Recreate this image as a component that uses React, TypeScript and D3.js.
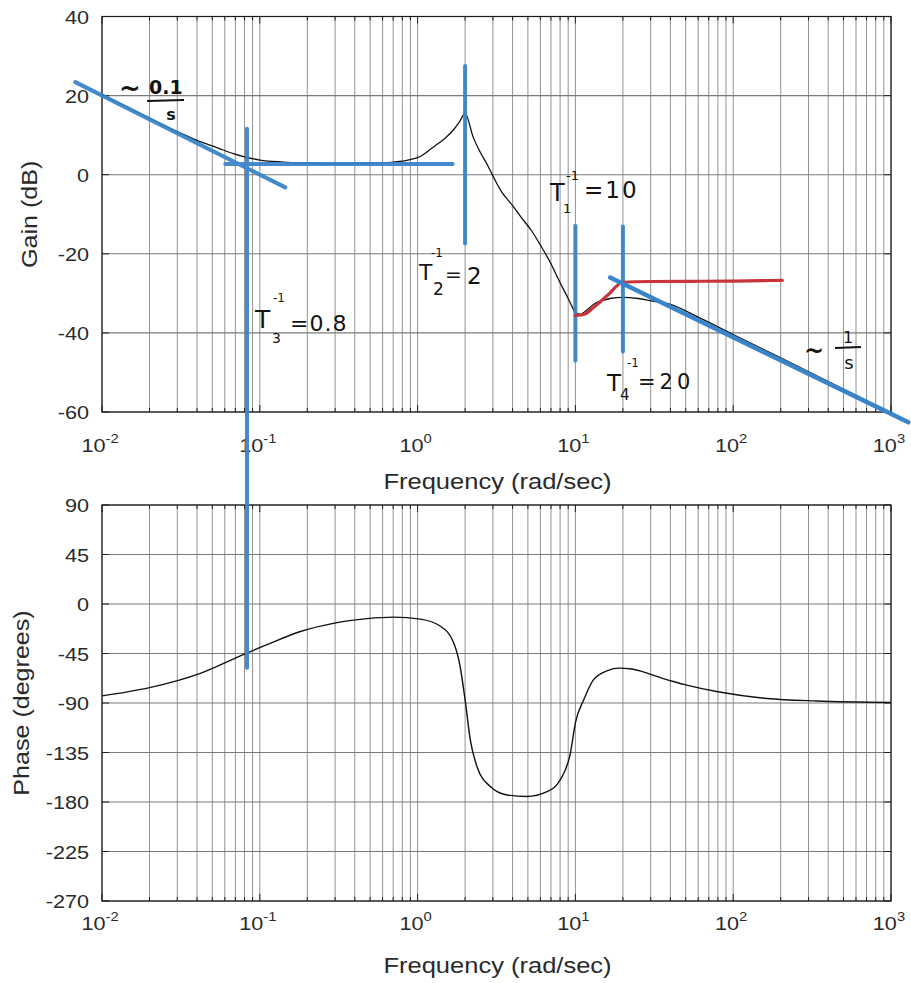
import React from "react";
import * as d3 from "d3";

const W = 911;
const H = 983;

// ---------- data ----------
const gainFreq = [0.01, 0.02, 0.03, 0.04, 0.054, 0.068, 0.08, 0.1, 0.14, 0.2, 0.3, 0.5, 0.7, 0.87, 1.04, 1.26, 1.5, 1.7, 1.85, 2.0, 2.25, 2.5, 2.75, 3.0, 3.4, 4.0, 4.5, 5.3, 6.0, 7.0, 8.0, 9.0, 9.6, 10.0, 10.7, 11.5, 13, 16.6, 20, 25, 30, 40, 60, 100, 200, 500, 1000];
const gainDb = [20.3, 14.3, 10.9, 8.7, 6.8, 5.3, 4.5, 3.7, 3.2, 2.9, 2.8, 2.9, 3.2, 3.7, 4.6, 7.0, 9.3, 11.5, 13.5, 15.5, 9.5, 5.6, 2.7, -0.3, -4.3, -7.8, -10.6, -14.3, -17.8, -22.5, -27.3, -31.3, -33.6, -34.9, -35.3, -34.6, -32.8, -31.3, -31.0, -31.3, -31.9, -32.8, -36.0, -40.4, -46.3, -54.2, -60.2];

const phaseFreq = [0.01, 0.02, 0.042, 0.08, 0.111, 0.181, 0.292, 0.478, 0.7, 1.04, 1.39, 1.69, 1.85, 2.0, 2.16, 2.38, 2.89, 3.68, 4.93, 6.61, 8.0, 9.29, 10.0, 11.3, 13.0, 16.0, 19.0, 22.0, 26.0, 32.0, 40.0, 50.0, 80.0, 164, 340, 1000];
const phaseDeg = [-83.5, -76, -63, -45.5, -37, -25, -17.6, -13.3, -11.9, -13.7, -20, -35, -55, -87, -124, -148, -166, -173.6, -175, -170.6, -160, -135.8, -108, -87, -69, -60.5, -58.3, -58.8, -61, -65.3, -69.8, -73.5, -79.8, -85.9, -88.2, -89.5];

// hand-drawn asymptotes (freq, dB)
const lowAsymFreq = [0.00678, 0.145];
const lowAsymDb = [23.4, -3.2];
const flatAsymFreq = [0.0604, 1.667];
const flatAsymDb = [2.7, 2.7];
const highAsymFreq = [16.6, 1288];
const highAsymDb = [-26, -62.6];
const redFreq = [10, 11.5, 13, 16, 20, 30, 100, 205];
const redDb = [-35.6, -35.2, -33.6, -30.5, -27.2, -27.0, -26.9, -26.7];

// hand-drawn vertical break-frequency marks
const markFreq = [0.083, 2, 10, 20];
const markTopDb = [11.6, 27.5, -12.9, -13.1];
const markBottomDb = [null, -17.4, -47, -44.7];
const markBottomPhase = [-58, null, null, null];

const gainTicks = [40, 20, 0, -20, -40, -60];
const phaseTicks = [90, 45, 0, -45, -90, -135, -180, -225, -270];
const decadeExps = [-2, -1, 0, 1, 2, 3];

// ---------- layout ----------
const X0 = 102;
const X1 = 891;
const x = d3.scaleLog().domain([0.01, 1000]).range([X0, X1]);
const yG = d3.scaleLinear().domain([-60, 40]).range([412, 16.5]);
const yP = d3.scaleLinear().domain([-270, 90]).range([901, 505]);

const minorFreqs: number[] = [];
for (let e = -2; e <= 2; e++) for (let k = 2; k <= 9; k++) minorFreqs.push(k * Math.pow(10, e));
const majorFreqs = decadeExps.map((e) => Math.pow(10, e));

const BLUE = "#3a84ca";
const RED = "#c9343a";
const INK = "#141414";
const TXT = "#2a2a2a";
const GRID = "#929292";

const zip = (a: number[], b: number[]) => a.map((v, i) => [v, b[i]] as [number, number]);

function SText({ x: px, y: py, size, sx = 1.16, anchor = "start", children, rotate = 0, fill = TXT, family = "Liberation Sans" }: any) {
  return (
    <g transform={`translate(${px},${py}) rotate(${rotate}) scale(${sx},1)`}>
      <text x={0} y={0} fontSize={size} textAnchor={anchor} fill={fill} fontFamily={family}>
        {children}
      </text>
    </g>
  );
}

function Panel({ y, ticks, label, labelX, tickBaseline, titleBaseline }: any) {
  const [yb, yt] = y.range();
  return (
    <g>
      {/* grid */}
      {minorFreqs.concat(majorFreqs).map((f, i) => (
        <line key={"v" + i} x1={x(f)} x2={x(f)} y1={yt} y2={yb} stroke={GRID} strokeWidth={1} />
      ))}
      {ticks.map((t: number, i: number) => (
        <line key={"h" + i} x1={X0} x2={X1} y1={y(t)} y2={y(t)} stroke="#7a7a7a" strokeWidth={1.1} />
      ))}
      {/* inner ticks */}
      {minorFreqs.map((f, i) => (
        <g key={"mt" + i} stroke="#222" strokeWidth={1}>
          <line x1={x(f)} x2={x(f)} y1={yb} y2={yb - 4} />
          <line x1={x(f)} x2={x(f)} y1={yt} y2={yt + 4} />
        </g>
      ))}
      {majorFreqs.map((f, i) => (
        <g key={"Mt" + i} stroke="#222" strokeWidth={1}>
          <line x1={x(f)} x2={x(f)} y1={yb} y2={yb - 7} />
          <line x1={x(f)} x2={x(f)} y1={yt} y2={yt + 7} />
        </g>
      ))}
      {ticks.map((t: number, i: number) => (
        <g key={"yt" + i} stroke="#222" strokeWidth={1}>
          <line x1={X0} x2={X0 + 7} y1={y(t)} y2={y(t)} />
          <line x1={X1} x2={X1 - 7} y1={y(t)} y2={y(t)} />
        </g>
      ))}
      <rect x={X0} y={yt} width={X1 - X0} height={yb - yt} fill="none" stroke="#1a1a1a" strokeWidth={1.2} />
      {/* y tick labels */}
      {ticks.map((t: number, i: number) => (
        <SText key={"yl" + i} x={89} y={y(t) + 7} size={19} sx={1.14} anchor="end">
          {String(t)}
        </SText>
      ))}
      {/* x tick labels */}
      {decadeExps.map((e, i) => (
        <SText key={"xl" + i} x={x(Math.pow(10, e)) - 2} y={tickBaseline} size={19} sx={1.14} anchor="middle">
          10<tspan fontSize={13} dy={-9}>{String(e)}</tspan>
        </SText>
      ))}
      <SText x={(X0 + X1) / 2 + 1} y={titleBaseline} size={22} sx={1.16} anchor="middle">
        Frequency (rad/sec)
      </SText>
      <SText x={labelX} y={(yt + yb) / 2} size={22} sx={1.14} anchor="middle" rotate={-90}>
        {label}
      </SText>
    </g>
  );
}

export default function App() {
  const lineG = d3
    .line<[number, number]>()
    .x((d) => x(d[0]))
    .y((d) => yG(d[1]))
    .curve(d3.curveMonotoneX);
  const lineP = d3
    .line<[number, number]>()
    .x((d) => x(d[0]))
    .y((d) => yP(d[1]))
    .curve(d3.curveMonotoneX);
  const lineStraight = d3
    .line<[number, number]>()
    .x((d) => x(d[0]))
    .y((d) => yG(d[1]));

  const hw = { fill: INK, fontFamily: "DejaVu Sans" } as any;

  return (
    <svg width={W} height={H} style={{ position: "absolute", left: 0, top: 0, background: "#fff" }}>
      <rect x={0} y={0} width={W} height={H} fill="#fff" />
      <Panel y={yG} ticks={gainTicks} label="Gain (dB)" labelX={37} tickBaseline={452} titleBaseline={489} />
      <Panel y={yP} ticks={phaseTicks} label="Phase (degrees)" labelX={29} tickBaseline={930} titleBaseline={973} />

      {/* measured curves */}
      <path d={lineG(zip(gainFreq, gainDb)) || ""} fill="none" stroke="#111" strokeWidth={1.3} />
      <path d={lineP(zip(phaseFreq, phaseDeg)) || ""} fill="none" stroke="#111" strokeWidth={1.4} />

      {/* hand-drawn asymptotes */}
      <g stroke={BLUE} strokeWidth={4} strokeLinecap="round" fill="none" opacity={0.95}>
        <path d={lineStraight(zip(lowAsymFreq, lowAsymDb)) || ""} />
        <path d={lineStraight(zip(flatAsymFreq, flatAsymDb)) || ""} />
        {markFreq.map((f, i) => (
          <line
            key={i}
            x1={x(f)}
            x2={x(f)}
            y1={yG(markTopDb[i])}
            y2={markBottomPhase[i] != null ? yP(markBottomPhase[i] as number) : yG(markBottomDb[i] as number)}
          />
        ))}
      </g>
      <path d={lineG(zip(redFreq, redDb)) || ""} fill="none" stroke={RED} strokeWidth={3.2} strokeLinecap="round" />
      <path d={lineStraight(zip(highAsymFreq, highAsymDb)) || ""} fill="none" stroke={BLUE} strokeWidth={4.5} strokeLinecap="round" />

      {/* handwritten annotations */}
      <g {...hw}>
        {/* ~ 0.1/s */}
        <text x={119} y={97} fontSize={26} fontWeight="bold">~</text>
        <text x={149} y={94} fontSize={19} fontWeight="bold">0.1</text>
        <line x1={147} x2={184} y1={101} y2={100} stroke={INK} strokeWidth={2.2} />
        <text x={171} y={120} fontSize={16} fontWeight="bold" textAnchor="middle">s</text>

        {/* T3 */}
        <text x={255} y={328} fontSize={25}>T</text>
        <text x={272} y={343} fontSize={14}>3</text>
        <text x={273} y={302} fontSize={12}>-1</text>
        <text x={290} y={331} fontSize={22} letterSpacing={1}>=0.8</text>

        {/* T2 */}
        <text x={419} y={280} fontSize={22}>T</text>
        <text x={433} y={295} fontSize={17}>2</text>
        <text x={431} y={257} fontSize={12}>-1</text>
        <text x={445} y={281} fontSize={20}>=</text>
        <text x={467} y={284} fontSize={23}>2</text>

        {/* T1 */}
        <text x={550} y={201} fontSize={24}>T</text>
        <text x={563} y={213} fontSize={13}>1</text>
        <text x={566} y={180} fontSize={13}>-1</text>
        <text x={584} y={198} fontSize={23} letterSpacing={2}>=10</text>

        {/* T4 */}
        <text x={607} y={391} fontSize={23}>T</text>
        <text x={620} y={400} fontSize={15}>4</text>
        <text x={627} y={367} fontSize={12}>-1</text>
        <text x={638} y={389} fontSize={21} letterSpacing={4}>=20</text>

        {/* ~ 1/s */}
        <text x={804} y={359} fontSize={24} fontWeight="bold">~</text>
        <text x={848} y={343} fontSize={16} textAnchor="middle">1</text>
        <line x1={835} x2={861} y1={348} y2={347} stroke={INK} strokeWidth={2.2} />
        <text x={849} y={369} fontSize={18} textAnchor="middle">s</text>
      </g>
    </svg>
  );
}
